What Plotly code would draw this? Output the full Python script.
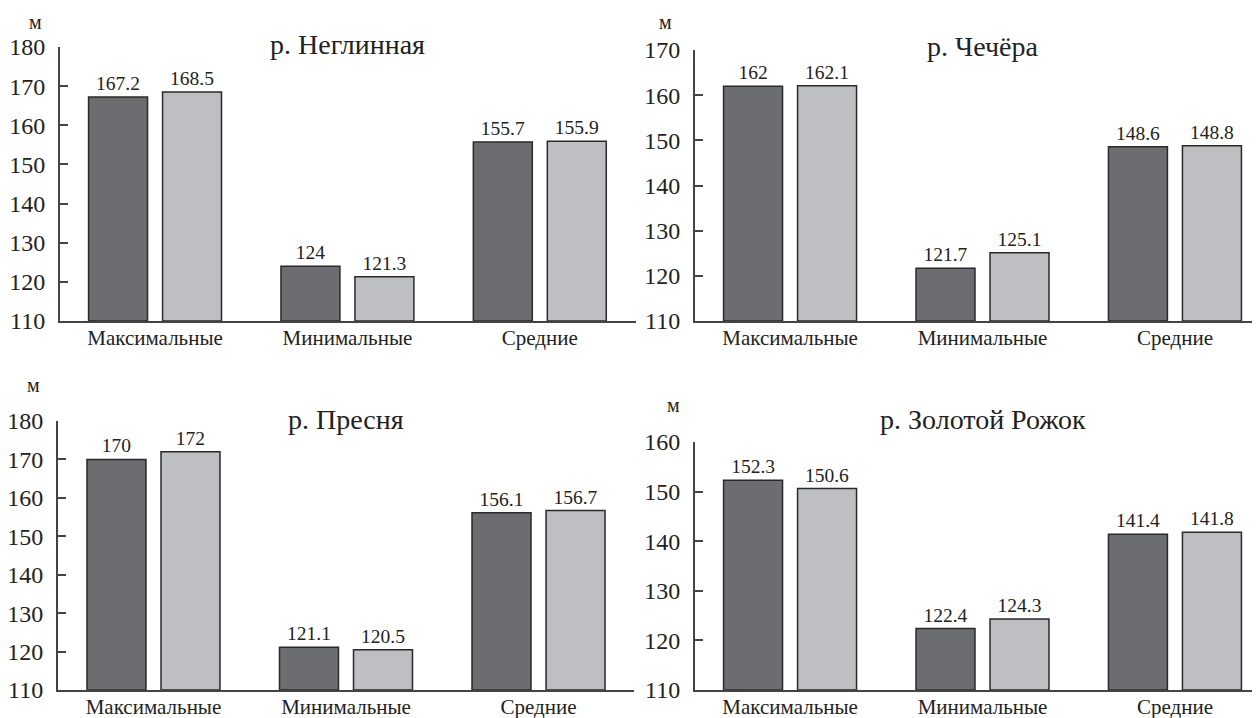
import plotly.graph_objects as go

# The page body adds an 8px margin, so the figure is drawn 8px in from the
# top-left corner of the window; all screen positions below are shifted by OFF.
OFF = 8
W, H = 1260 - OFF, 718 - OFF

categories = ["Максимальные", "Минимальные", "Средние"]
titles = ["р. Неглинная", "р. Чечёра", "р. Пресня", "р. Золотой Рожок"]
series_a = [
    [167.2, 124, 155.7],
    [162, 121.7, 148.6],
    [170, 121.1, 156.1],
    [152.3, 122.4, 141.4],
]
series_b = [
    [168.5, 121.3, 155.9],
    [162.1, 125.1, 148.8],
    [172, 120.5, 156.7],
    [150.6, 124.3, 141.8],
]
y_ranges = [[110, 180], [110, 170], [110, 180], [110, 160]]
y_ticks = [
    [110, 120, 130, 140, 150, 160, 170, 180],
    [110, 120, 130, 140, 150, 160, 170],
    [110, 120, 130, 140, 150, 160, 170, 180],
    [110, 120, 130, 140, 150, 160],
]

# screen-pixel boxes of plot areas: (x0, x1, ytop, ybottom)
boxes = [(60, 636, 47, 321), (695, 1260, 50, 321), (58, 634, 421, 690), (695, 1260, 442, 690)]
x_ranges = [[-0.494, 2.5], [-0.494, 2.442], [-0.496, 2.496], [-0.494, 2.442]]
unit_pos = [(35, 22), (665, 22), (33, 385), (673, 405)]
title_y = [44, 46, 419, 419]


def fx(px):
    return (px - OFF) / W


def fy(py):
    return 1 - (py - OFF) / H


DARK = "#6c6d71"
LIGHT = "#bebfc2"
EDGE = "#2a2a2a"
TXT = "#222222"
FONT = "Liberation Serif, Times New Roman, serif"

fig = go.Figure()
layout = dict(
    template="none",
    width=W, height=H, margin=dict(l=0, r=0, t=0, b=0, autoexpand=False),
    paper_bgcolor="white", plot_bgcolor="white",
    showlegend=False, barmode="group", bargap=0.231, bargroupgap=0.203,
    font=dict(family=FONT, color=TXT),
)
annotations = []
for i in range(4):
    x0, x1, yt, yb = boxes[i]
    xa = "x" if i == 0 else f"x{i+1}"
    ya = "y" if i == 0 else f"y{i+1}"
    for vals, col in ((series_a[i], DARK), (series_b[i], LIGHT)):
        fig.add_trace(go.Bar(
            x=categories, y=[v - y_ranges[i][0] for v in vals], base=y_ranges[i][0],
            text=[f"{v:g}" for v in vals], textposition="outside",
            textfont=dict(family=FONT, size=19.5, color=TXT),
            marker=dict(color=col, line=dict(color=EDGE, width=1.5)),
            xaxis=xa, yaxis=ya, cliponaxis=False, hoverinfo="skip",
        ))
    xkey = "xaxis" if i == 0 else f"xaxis{i+1}"
    ykey = "yaxis" if i == 0 else f"yaxis{i+1}"
    layout[xkey] = dict(
        domain=[fx(x0), min(1, fx(x1))], anchor=ya, type="category", automargin=False,
        range=x_ranges[i], showgrid=False, zeroline=False,
        showline=True, linecolor="#444444", linewidth=2, ticks="",
        tickfont=dict(family=FONT, size=21, color=TXT),
    )
    layout[ykey] = dict(
        domain=[fy(yb), fy(yt)], anchor=xa, range=y_ranges[i], automargin=False,
        tickvals=y_ticks[i], showgrid=False, zeroline=False,
        showline=True, linecolor="#444444", linewidth=2,
        ticks="inside", ticklen=8, tickwidth=1.5, tickcolor="#444444",
        tickfont=dict(family=FONT, size=24, color=TXT), ticklabelstandoff=8,
    )
    annotations.append(dict(
        x=fx(unit_pos[i][0]), y=fy(unit_pos[i][1]), xref="paper", yref="paper",
        text="м", showarrow=False, font=dict(family=FONT, size=20, color=TXT),
        xanchor="center", yanchor="middle",
    ))
    annotations.append(dict(
        x=1, y=fy(title_y[i]), xref=xa, yref="paper",
        text=titles[i], showarrow=False, font=dict(family=FONT, size=28, color=TXT),
        xanchor="center", yanchor="middle",
    ))
layout["annotations"] = annotations
fig.update_layout(**layout)
for i in range(4):
    xkey = "xaxis" if i == 0 else f"xaxis{i+1}"
    try:
        fig.layout[xkey].ticklabelstandoff = -3
    except ValueError:
        fig.layout[xkey].ticklabelstandoff = 0
fig.write_html("out.html")
